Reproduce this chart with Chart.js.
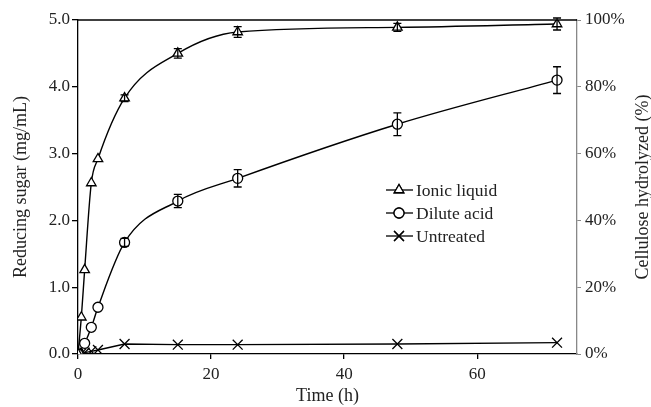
<!DOCTYPE html>
<html>
<head>
<meta charset="utf-8">
<script src="https://cdn.jsdelivr.net/npm/chart.js@4.4.0/dist/chart.umd.min.js"></script>
<style>
  html, body { margin: 0; padding: 0; background: #fff; }
  #wrap { width: 651px; height: 407px; position: relative; }
</style>
</head>
<body>
<div id="wrap"><canvas id="chartSugar" width="651" height="407"></canvas></div>
<script>
// time points (h)
const times = [0, 0.5, 1, 2, 3, 7, 15, 24, 48, 72];
// reducing sugar (mg/mL)
const ionicLiquid = [0, 0.55, 1.26, 2.56, 2.92, 3.83, 4.5, 4.82, 4.89, 4.94];
const ionicErr = [0, 0, 0, 0, 0, 0.05, 0.07, 0.08, 0.06, 0.09];
const diluteAcid = [0, null, 0.16, 0.4, 0.7, 1.67, 2.29, 2.63, 3.44, 4.1];
const acidErr = [0, 0, 0, 0, 0, 0.06, 0.1, 0.13, 0.17, 0.2];
const untreated = [0, 0.01, 0.02, 0.04, 0.06, 0.15, 0.14, 0.14, 0.15, 0.17];

const labelsLegend = ["Ionic liquid", "Dilute acid", "Untreated"];
const xTicks = [0, 20, 40, 60];

const serif = "'Liberation Serif', 'Times New Roman', serif";

const toPts = (arr) => times.map((t, i) => ({ x: t, y: arr[i] })).filter((p) => p.y !== null);

// error bars drawn through the scales
const errorBars = {
  id: "errorBars",
  afterDatasetsDraw(chart) {
    const ctx = chart.ctx;
    const xs = chart.scales.x, ys = chart.scales.y;
    ctx.save();
    ctx.strokeStyle = "#000";
    ctx.lineWidth = 1.3;
    chart.data.datasets.forEach((ds) => {
      if (!ds.err) return;
      ds.data.forEach((p) => {
        const e = ds.err[times.indexOf(p.x)];
        if (!e) return;
        const px = xs.getPixelForValue(p.x);
        const top = ys.getPixelForValue(p.y + e);
        const bot = ys.getPixelForValue(p.y - e);
        ctx.beginPath();
        ctx.moveTo(px, top); ctx.lineTo(px, bot);
        ctx.moveTo(px - 4, top); ctx.lineTo(px + 4, top);
        ctx.moveTo(px - 4, bot); ctx.lineTo(px + 4, bot);
        ctx.stroke();
      });
    });
    ctx.restore();
  },
};

// top frame line, right title and in-plot legend
const frameLegend = {
  id: "frameLegend",
  afterDraw(chart) {
    const ctx = chart.ctx;
    const a = chart.chartArea;
    ctx.save();
    ctx.strokeStyle = "#000";
    ctx.lineWidth = 1.3;
    ctx.beginPath();
    ctx.moveTo(a.left, a.top);
    ctx.lineTo(a.right, a.top);
    ctx.stroke();

    // right axis title, reading bottom to top
    ctx.save();
    ctx.translate(643, (a.top + a.bottom) / 2);
    ctx.rotate(-Math.PI / 2);
    ctx.font = "18px " + serif;
    ctx.fillStyle = "#222";
    ctx.textAlign = "center";
    ctx.textBaseline = "middle";
    ctx.fillText("Cellulose hydrolyzed (%)", 0, 0);
    ctx.restore();

    const styles = ["triangle", "circle", "crossRot"];
    const radii = [5.5, 5, 7];
    const rows = [190, 213, 236];
    ctx.font = "17.5px " + serif;
    ctx.textBaseline = "middle";
    rows.forEach((y, i) => {
      ctx.beginPath();
      ctx.moveTo(386, y); ctx.lineTo(413, y);
      ctx.stroke();
      ctx.fillStyle = "#fff";
      Chart.helpers.drawPoint(ctx, { pointStyle: styles[i], radius: radii[i], borderWidth: 1.3 }, 399, y);
      ctx.fill();
      ctx.stroke();
      ctx.fillStyle = "#222";
      ctx.fillText(labelsLegend[i], 416, y + 1);
    });
    ctx.restore();
  },
};

const markerBase = {
  borderColor: "#000",
  backgroundColor: "#fff",
  borderWidth: 1.4,
  pointBorderWidth: 1.3,
  pointRadius: 5,
  pointBackgroundColor: "#fff",
  pointBorderColor: "#000",
};

new Chart(document.getElementById("chartSugar").getContext("2d"), {
  type: "line",
  data: {
    datasets: [
      Object.assign({}, markerBase, {
        label: labelsLegend[0],
        data: toPts(ionicLiquid),
        err: ionicErr,
        pointStyle: "triangle",
        pointRadius: 5.5,
        cubicInterpolationMode: "monotone",
      }),
      Object.assign({}, markerBase, {
        label: labelsLegend[1],
        data: toPts(diluteAcid),
        err: acidErr,
        pointStyle: "circle",
        cubicInterpolationMode: "monotone",
      }),
      Object.assign({}, markerBase, {
        label: labelsLegend[2],
        data: toPts(untreated),
        pointStyle: "crossRot",
        pointRadius: 7,
        tension: 0,
      }),
    ],
  },
  options: {
    responsive: false,
    animation: false,
    layout: { padding: { top: 20, left: 0, right: 0, bottom: 0 } },
    plugins: { legend: { display: false }, tooltip: { enabled: false } },
    scales: {
      x: {
        type: "linear",
        min: 0,
        max: 75,
        afterBuildTicks: (s) => { s.ticks = xTicks.map((v) => ({ value: v })); },
        afterFit: (s) => { s.height = 53; },
        grid: { drawOnChartArea: false, tickLength: 5, color: "#000", lineWidth: 1.3 },
        border: { color: "#000", width: 1.3 },
        ticks: { color: "#222", font: { family: serif, size: 17 }, padding: 5, maxRotation: 0 },
        title: { display: true, text: "Time (h)", color: "#222", font: { family: serif, size: 18 }, padding: { top: 0, bottom: 0 } },
      },
      y: {
        position: "left",
        min: 0,
        max: 5,
        afterFit: (s) => { s.width = 78; },
        grid: { drawOnChartArea: false, tickLength: 6, color: "#000", lineWidth: 1.3 },
        border: { color: "#000", width: 1.3 },
        ticks: { stepSize: 1, color: "#222", font: { family: serif, size: 17 }, padding: 2, callback: (v) => v.toFixed(1) },
        title: { display: true, text: "Reducing sugar (mg/mL)", color: "#222", font: { family: serif, size: 18 }, padding: { top: 10, bottom: 4 } },
      },
      y2: {
        position: "right",
        min: 0,
        max: 100,
        afterFit: (s) => { s.width = 74; },
        grid: { drawOnChartArea: false, tickLength: 4, color: "#888", lineWidth: 1 },
        border: { color: "#888", width: 1.3 },
        ticks: { stepSize: 20, color: "#222", font: { family: serif, size: 17 }, padding: 4, callback: (v) => v + "%" },
      },
    },
  },
  plugins: [errorBars, frameLegend],
});
</script>
</body>
</html>
